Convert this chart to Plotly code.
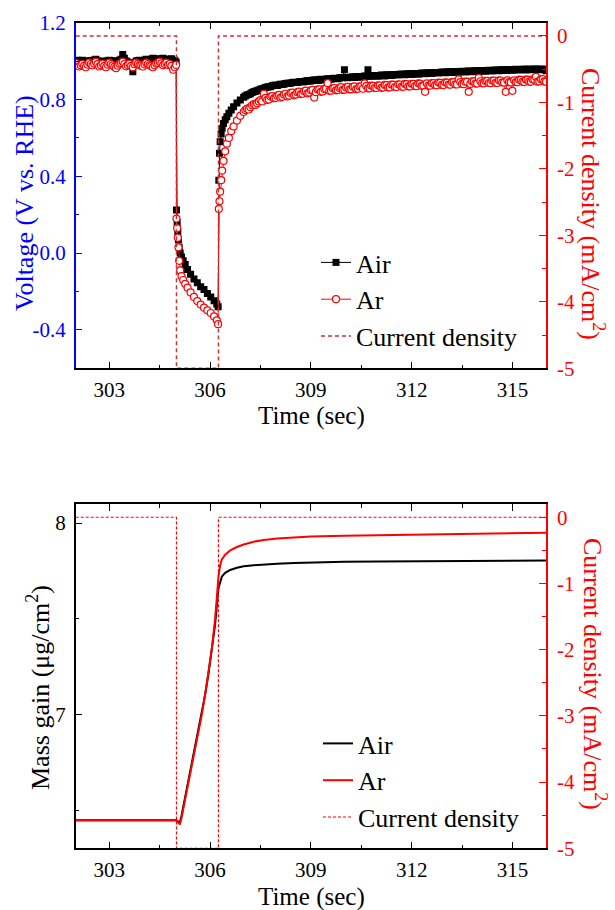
import plotly.graph_objects as go

# ---------------- data: top panel (voltage) ----------------
T_FLAT = [302.0, 302.1, 302.2, 302.3, 302.4, 302.5, 302.6, 302.7, 302.8, 302.9,
          303.0, 303.1, 303.2, 303.3, 303.4, 303.5, 303.6, 303.7, 303.8, 303.9,
          304.0, 304.1, 304.2, 304.3, 304.4, 304.5, 304.6, 304.7, 304.8, 304.9, 304.99]
AIR_FLAT = [1.0, 0.995, 1.005, 0.99, 1.0, 1.0, 1.01, 0.995, 1.0, 0.99,
            1.005, 1.0, 0.995, 1.005, 1.035, 1.0, 0.985, 0.945, 1.0, 1.005,
            0.995, 1.01, 1.0, 1.015, 1.005, 1.01, 1.015, 1.005, 1.01, 1.0, 0.995]
AR_FLAT = [0.99, 0.972, 0.985, 0.968, 0.992, 0.978, 0.996, 0.972, 0.987, 0.968,
           0.992, 0.978, 0.963, 0.986, 0.997, 0.973, 0.987, 0.968, 0.992, 0.978,
           0.972, 0.992, 0.978, 0.968, 0.987, 0.997, 0.978, 0.992, 0.985, 0.955, 0.98]

T_FLAT_B = [302.05, 302.15, 302.25, 302.35, 302.45, 302.55, 302.65, 302.75, 302.85, 302.95,
            303.05, 303.15, 303.25, 303.35, 303.45, 303.55, 303.65, 303.75, 303.85, 303.95,
            304.05, 304.15, 304.25, 304.35, 304.45, 304.55, 304.65, 304.75, 304.85, 304.95]
AIR_FLAT_B = [1.005, 0.998, 1.0, 0.995, 1.003, 1.006, 1.0, 0.998, 0.995, 1.0,
              1.002, 0.998, 1.0, 1.01, 1.015, 0.995, 0.99, 0.99, 1.003, 1.0,
              1.005, 1.008, 1.01, 1.012, 1.01, 1.012, 1.01, 1.008, 1.012, 1.005]
AR_FLAT_B = [0.98, 0.978, 0.975, 0.982, 0.985, 0.987, 0.984, 0.978, 0.975, 0.982,
             0.985, 0.97, 0.976, 0.99, 0.985, 0.98, 0.975, 0.984, 0.986, 0.978,
             0.983, 0.985, 0.975, 0.978, 0.99, 0.988, 0.985, 0.98, 0.975, 0.968]

T_DEC = [305.0, 305.02, 305.04, 305.06, 305.08, 305.11, 305.15, 305.2, 305.26, 305.33,
         305.42, 305.52, 305.62, 305.72, 305.82, 305.92, 306.02, 306.12, 306.2, 306.24]
AIR_DEC = [0.225, 0.16, 0.11, 0.07, 0.03, 0.0, -0.02, -0.04, -0.06, -0.085,
           -0.11, -0.135, -0.155, -0.175, -0.19, -0.21, -0.228, -0.248, -0.265, -0.28]
AR_DEC = [0.18, 0.13, 0.08, 0.03, -0.04, -0.09, -0.12, -0.14, -0.16, -0.18,
          -0.205, -0.228, -0.25, -0.268, -0.284, -0.298, -0.312, -0.33, -0.35, -0.37]

T_REC1 = [306.26, 306.28, 306.3, 306.33, 306.36, 306.4, 306.45, 306.5, 306.56, 306.63,
          306.7, 306.8, 306.9]
AIR_REC1 = [0.38, 0.52, 0.58, 0.62, 0.65, 0.675, 0.695, 0.71, 0.728, 0.745,
            0.762, 0.782, 0.798]
AR_REC1 = [0.23, 0.27, 0.32, 0.38, 0.43, 0.48, 0.53, 0.57, 0.6, 0.635,
           0.66, 0.69, 0.715]

T_REC2 = [307.0, 307.1, 307.2, 307.3, 307.4, 307.5, 307.6, 307.7, 307.8, 307.9,
          308.0, 308.1, 308.2, 308.3, 308.4, 308.5, 308.6, 308.7, 308.8, 308.9,
          309.0, 309.1, 309.2, 309.3, 309.4, 309.5, 309.6, 309.7, 309.8, 309.9,
          310.0, 310.1, 310.2, 310.3, 310.4, 310.5, 310.6, 310.7, 310.8, 310.9,
          311.0, 311.1, 311.2, 311.3, 311.4, 311.5, 311.6, 311.7, 311.8, 311.9,
          312.0, 312.1, 312.2, 312.3, 312.4, 312.5, 312.6, 312.7, 312.8, 312.9,
          313.0, 313.1, 313.2, 313.3, 313.4, 313.5, 313.6, 313.7, 313.8, 313.9,
          314.0, 314.1, 314.2, 314.3, 314.4, 314.5, 314.6, 314.7, 314.8, 314.9,
          315.0, 315.1, 315.2, 315.3, 315.4, 315.5, 315.6, 315.7, 315.8, 315.9, 316.0]
AIR_REC2 = [0.812, 0.823, 0.83, 0.84, 0.846, 0.853, 0.858, 0.865, 0.867, 0.874,
            0.873, 0.88, 0.879, 0.885, 0.884, 0.89, 0.888, 0.894, 0.892, 0.898,
            0.896, 0.902, 0.899, 0.905, 0.902, 0.908, 0.905, 0.911, 0.908, 0.914,
            0.955, 0.913, 0.917, 0.914, 0.92, 0.916, 0.922, 0.955, 0.921, 0.925,
            0.921, 0.927, 0.923, 0.929, 0.925, 0.93, 0.927, 0.932, 0.929, 0.934,
            0.93, 0.936, 0.932, 0.938, 0.934, 0.939, 0.936, 0.941, 0.938, 0.943,
            0.939, 0.944, 0.941, 0.946, 0.942, 0.947, 0.943, 0.948, 0.945, 0.95,
            0.946, 0.951, 0.947, 0.952, 0.949, 0.953, 0.95, 0.955, 0.951, 0.956,
            0.952, 0.957, 0.953, 0.958, 0.954, 0.958, 0.955, 0.959, 0.955, 0.958, 0.95]
AR_REC2 = [0.735, 0.752, 0.76, 0.776, 0.78, 0.797, 0.83, 0.798, 0.815, 0.806,
           0.82, 0.81, 0.826, 0.816, 0.834, 0.822, 0.838, 0.828, 0.843, 0.832,
           0.848, 0.81, 0.852, 0.84, 0.855, 0.885, 0.846, 0.86, 0.849, 0.864,
           0.851, 0.866, 0.854, 0.868, 0.856, 0.869, 0.884, 0.858, 0.872, 0.86,
           0.874, 0.861, 0.876, 0.863, 0.878, 0.865, 0.879, 0.867, 0.881, 0.868,
           0.882, 0.87, 0.884, 0.871, 0.84, 0.873, 0.886, 0.875, 0.888, 0.876,
           0.889, 0.878, 0.891, 0.879, 0.905, 0.881, 0.893, 0.84, 0.895, 0.883,
           0.912, 0.885, 0.897, 0.886, 0.899, 0.887, 0.9, 0.889, 0.84, 0.89,
           0.845, 0.891, 0.903, 0.892, 0.904, 0.893, 0.905, 0.918, 0.894, 0.906, 0.893]

T_REC2_B = [307.05, 307.15, 307.25, 307.35, 307.45, 307.55, 307.65, 307.75, 307.85, 307.95,
            308.05, 308.15, 308.25, 308.35, 308.45, 308.55, 308.65, 308.75, 308.85, 308.95,
            309.05, 309.15, 309.25, 309.35, 309.45, 309.55, 309.65, 309.75, 309.85, 309.95,
            310.05, 310.15, 310.25, 310.35, 310.45, 310.55, 310.65, 310.75, 310.85, 310.95,
            311.05, 311.15, 311.25, 311.35, 311.45, 311.55, 311.65, 311.75, 311.85, 311.95,
            312.05, 312.15, 312.25, 312.35, 312.45, 312.55, 312.65, 312.75, 312.85, 312.95,
            313.05, 313.15, 313.25, 313.35, 313.45, 313.55, 313.65, 313.75, 313.85, 313.95,
            314.05, 314.15, 314.25, 314.35, 314.45, 314.55, 314.65, 314.75, 314.85, 314.95,
            315.05, 315.15, 315.25, 315.35, 315.45, 315.55, 315.65, 315.75, 315.85, 315.95]
AIR_REC2_B = [0.818, 0.826, 0.836, 0.843, 0.85, 0.856, 0.862, 0.866, 0.871, 0.874,
              0.877, 0.88, 0.883, 0.885, 0.888, 0.889, 0.892, 0.893, 0.896, 0.897,
              0.9, 0.901, 0.903, 0.904, 0.906, 0.907, 0.909, 0.91, 0.912, 0.913,
              0.914, 0.915, 0.917, 0.918, 0.919, 0.92, 0.921, 0.922, 0.924, 0.924,
              0.925, 0.926, 0.927, 0.928, 0.929, 0.93, 0.931, 0.931, 0.933, 0.933,
              0.934, 0.935, 0.936, 0.937, 0.938, 0.938, 0.94, 0.94, 0.941, 0.942,
              0.943, 0.943, 0.944, 0.945, 0.946, 0.946, 0.947, 0.947, 0.948, 0.949,
              0.95, 0.95, 0.951, 0.951, 0.952, 0.952, 0.953, 0.954, 0.954, 0.955,
              0.955, 0.956, 0.956, 0.957, 0.957, 0.957, 0.958, 0.958, 0.958, 0.957]
AR_REC2_B = [0.745, 0.748, 0.77, 0.772, 0.79, 0.79, 0.808, 0.8, 0.818, 0.808,
             0.824, 0.814, 0.83, 0.82, 0.836, 0.826, 0.841, 0.83, 0.846, 0.836,
             0.85, 0.838, 0.853, 0.842, 0.856, 0.845, 0.858, 0.848, 0.861, 0.85,
             0.863, 0.852, 0.866, 0.854, 0.868, 0.856, 0.87, 0.858, 0.871, 0.86,
             0.873, 0.862, 0.875, 0.863, 0.877, 0.865, 0.878, 0.866, 0.88, 0.868,
             0.881, 0.869, 0.883, 0.871, 0.884, 0.872, 0.885, 0.874, 0.887, 0.875,
             0.888, 0.877, 0.89, 0.878, 0.891, 0.88, 0.893, 0.881, 0.894, 0.883,
             0.895, 0.884, 0.897, 0.885, 0.898, 0.886, 0.899, 0.888, 0.9, 0.889,
             0.9, 0.89, 0.902, 0.891, 0.903, 0.892, 0.904, 0.893, 0.905, 0.894]

# current density step (both panels)
T_J = [302.0, 305.0, 305.0, 306.25, 306.25, 316.0]
J_VAL = [0, 0, -5, -5, 0, 0]

# ---------------- data: bottom panel (mass gain) ----------------
T_M = [302.0, 303.0, 304.0, 305.0, 305.05, 305.1, 305.15, 305.25, 305.35, 305.45,
       305.55, 305.65, 305.75, 305.85, 305.95, 306.05, 306.15, 306.25, 306.3, 306.35,
       306.45, 306.6, 306.8, 307.0, 307.3, 307.6, 308.0, 308.5, 309.0, 310.0,
       311.0, 312.0, 313.0, 314.0, 315.0, 316.0]
AIR_M = [6.447, 6.447, 6.447, 6.447, 6.44, 6.435, 6.47, 6.56, 6.64, 6.72,
         6.81, 6.9, 7.0, 7.1, 7.21, 7.33, 7.47, 7.66, 7.695, 7.72,
         7.74, 7.755, 7.767, 7.774, 7.78, 7.784, 7.788, 7.792, 7.795, 7.798,
         7.8, 7.801, 7.802, 7.803, 7.804, 7.805]
AR_M = [6.447, 6.447, 6.447, 6.447, 6.435, 6.425, 6.46, 6.55, 6.635, 6.715,
        6.805, 6.895, 6.995, 7.1, 7.21, 7.34, 7.5, 7.72, 7.78, 7.81,
        7.835, 7.858, 7.875, 7.888, 7.903, 7.912, 7.92, 7.926, 7.93, 7.934,
        7.937, 7.94, 7.943, 7.946, 7.948, 7.95]

X_TICKS = [303, 306, 309, 312, 315]
V_TICKS = [-0.4, 0.0, 0.4, 0.8, 1.2]
V_LABELS = ["-0.4", "0.0", "0.4", "0.8", "1.2"]
J_TICKS = [0, -1, -2, -3, -4, -5]
J_LABELS = ["0", "-1", "-2", "-3", "-4", "-5"]
M_TICKS = [7, 8]

# merge the sampled segments in time order
rows = sorted(
    list(zip(T_FLAT, AIR_FLAT, AR_FLAT)) + list(zip(T_FLAT_B, AIR_FLAT_B, AR_FLAT_B)) +
    list(zip(T_DEC, AIR_DEC, AR_DEC)) + list(zip(T_REC1, AIR_REC1, AR_REC1)) +
    list(zip(T_REC2, AIR_REC2, AR_REC2)) + list(zip(T_REC2_B, AIR_REC2_B, AR_REC2_B))
)
t_v = [r[0] for r in rows]
air_v = [r[1] for r in rows]
ar_v = [r[2] for r in rows]

FONT = "Liberation Serif"
W, H = 615, 910
BLUE = "#0000ff"
RED = "#ff0000"
DARKRED = "#cc3333"

fig = go.Figure()
fig.add_trace(go.Scatter(x=t_v, y=air_v, name="Air", mode="lines+markers",
                         line=dict(color="black", width=1),
                         marker=dict(symbol="square", size=7, color="black"),
                         xaxis="x", yaxis="y", legend="legend"))
fig.add_trace(go.Scatter(x=t_v, y=ar_v, name="Ar", mode="lines+markers",
                         line=dict(color=RED, width=1),
                         marker=dict(symbol="circle", size=7, color="white",
                                     line=dict(color=RED, width=1.2)),
                         xaxis="x", yaxis="y", legend="legend"))
fig.add_trace(go.Scatter(x=T_J, y=J_VAL, name="Current density", mode="lines",
                         line=dict(color=DARKRED, width=1.5, dash="4px,3px"),
                         xaxis="x", yaxis="y2", legend="legend"))

fig.add_trace(go.Scatter(x=T_M, y=AIR_M, name="Air", mode="lines",
                         line=dict(color="black", width=2),
                         xaxis="x2", yaxis="y3", legend="legend2"))
fig.add_trace(go.Scatter(x=T_M, y=AR_M, name="Ar", mode="lines",
                         line=dict(color=RED, width=2),
                         xaxis="x2", yaxis="y3", legend="legend2"))
fig.add_trace(go.Scatter(x=T_J, y=J_VAL, name="Current density", mode="lines",
                         line=dict(color=RED, width=1.2, dash="3px,2px"),
                         xaxis="x2", yaxis="y4", legend="legend2"))

XDOM = [75.7 / W, 546 / W]
TOPDOM = [1 - 368.3 / H, 1 - 22.7 / H]
BOTDOM = [1 - 848.3 / H, 1 - 504 / H]

tickfont = dict(family=FONT, size=21, color="black")


def xaxis_cfg(anchor):
    return dict(domain=XDOM, anchor=anchor, range=[302, 316], tickvals=X_TICKS,
                ticks="inside", ticklen=7, tickwidth=1.3, tickcolor="black",
                minor=dict(dtick=1.5, tick0=301.5, ticks="inside", ticklen=4,
                           tickcolor="black", tickwidth=1.3),
                showline=True, linecolor="black", linewidth=1.5, mirror="ticks",
                showgrid=False, zeroline=False, tickfont=tickfont,
                ticklabelstandoff=2)


def jaxis_cfg(over, anchor):
    return dict(overlaying=over, anchor=anchor, side="right", range=[-5, 0.2],
                tickvals=J_TICKS, ticktext=J_LABELS, ticks="inside", ticklen=7,
                tickwidth=1.3, tickcolor=RED,
                minor=dict(dtick=0.5, tick0=0, ticks="inside", ticklen=4,
                           tickcolor=RED, tickwidth=1.3),
                showline=True, linecolor=RED, linewidth=1.5, showgrid=False,
                zeroline=False, tickfont=dict(family=FONT, size=21, color=RED),
                ticklabelstandoff=5)


fig.update_layout(
    width=W, height=H, margin=dict(l=0, r=0, t=0, b=0, autoexpand=False),
    paper_bgcolor="white", plot_bgcolor="white",
    font=dict(family=FONT, size=21, color="black"),
    xaxis=xaxis_cfg("y"),
    xaxis2=xaxis_cfg("y3"),
    yaxis=dict(domain=TOPDOM, anchor="x", range=[-0.6, 1.2], tickvals=V_TICKS,
               ticktext=V_LABELS, ticks="inside", ticklen=7, tickwidth=1.3,
               tickcolor=BLUE,
               minor=dict(dtick=0.2, tick0=0, ticks="inside", ticklen=4,
                          tickcolor=BLUE, tickwidth=1.3),
               showline=True, linecolor=BLUE, linewidth=1.5, showgrid=False,
               zeroline=False, tickfont=dict(family=FONT, size=21, color=BLUE),
               ticklabelstandoff=4),
    yaxis2=jaxis_cfg("y", "x"),
    yaxis3=dict(domain=BOTDOM, anchor="x2", range=[6.3, 8.1], tickvals=M_TICKS,
                ticks="inside", ticklen=7, tickwidth=1.3, tickcolor="black",
                minor=dict(dtick=0.5, tick0=6.5, ticks="inside", ticklen=4,
                           tickcolor="black", tickwidth=1.3),
                showline=True, linecolor="black", linewidth=1.5, showgrid=False,
                zeroline=False, tickfont=tickfont, ticklabelstandoff=4),
    yaxis4=jaxis_cfg("y3", "x2"),
    legend=dict(x=316 / W, y=1 - 239 / H, xanchor="left", yanchor="top",
                bgcolor="rgba(0,0,0,0)", font=dict(family=FONT, size=26),
                tracegroupgap=0),
    legend2=dict(x=318 / W, y=1 - 720 / H, xanchor="left", yanchor="top",
                 bgcolor="rgba(0,0,0,0)", font=dict(family=FONT, size=26),
                 tracegroupgap=0),
    showlegend=True,
)

ann_font = dict(family=FONT, size=25)
annotations = [
    dict(text="Time (sec)", x=311 / W, y=1 - 416 / H, font=ann_font),
    dict(text="Voltage (V vs. RHE)", x=24 / W, y=1 - 203 / H, textangle=-90,
         font=dict(family=FONT, size=26, color=BLUE)),
    dict(text="Current density (mA/cm<sup>2</sup>)", x=592 / W, y=1 - 204 / H,
         textangle=90, font=dict(family=FONT, size=26, color=RED)),
    dict(text="Time (sec)", x=311 / W, y=1 - 897 / H, font=ann_font),
    dict(text="Mass gain (μg/cm<sup>2</sup>)", x=38 / W, y=1 - 688 / H,
         textangle=-90, font=dict(family=FONT, size=26)),
    dict(text="Current density (mA/cm<sup>2</sup>)", x=595 / W, y=1 - 674 / H,
         textangle=90, font=dict(family=FONT, size=26, color=RED)),
]
for a in annotations:
    a.update(xref="paper", yref="paper", showarrow=False,
             xanchor="center", yanchor="middle")
fig.update_layout(annotations=annotations)

fig.write_html("out.html",
               config={"displayModeBar": False},
               post_script="document.body.style.margin='0px';"
                           "document.body.style.overflow='hidden';")
